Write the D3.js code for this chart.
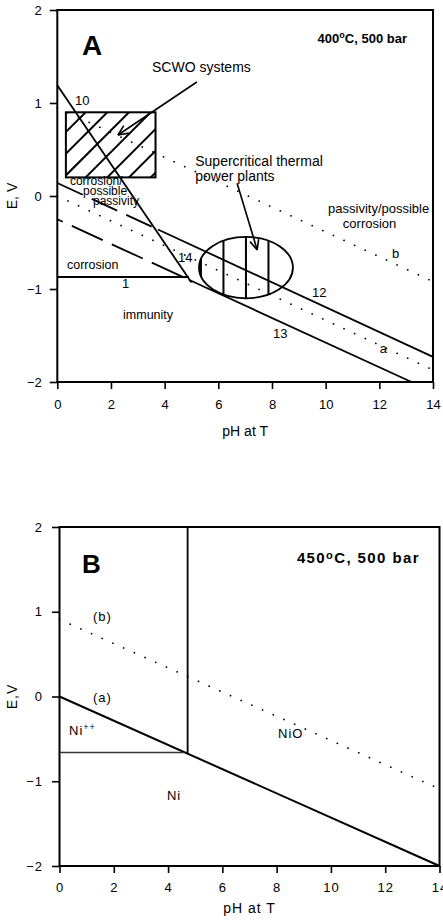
<!DOCTYPE html>
<html>
<head>
<meta charset="utf-8">
<script src="https://cdn.jsdelivr.net/npm/d3@7"></script>
<style>
  html, body { margin: 0; padding: 0; background: #fff; }
  svg { display: block; }
  text { font-family: "Liberation Sans", Arial, Helvetica, sans-serif; fill: #000; }
</style>
</head>
<body>
<svg id="chart" width="443" height="922"></svg>
<script>
// ---------- Panel A: 400 °C, 500 bar ----------
const xTicks = [0, 2, 4, 6, 8, 10, 12, 14];
const yTicks = [-2, -1, 0, 1, 2];

// line 10 (steep solid)
const a10pH = [0, 5.0];
const a10E  = [1.19, -0.93];
// line 12: dashed up to its crossing with line 10, solid beyond
const a12pH = [0, 3.75, 14];
const a12E  = [0.14, -0.36, -1.73];
// line 13: dashed at low pH, solid from the end of line 1
const a13pH = [0, 4.9, 13.2];
const a13E  = [-0.25, -0.90, -2.0];
// line 1 (horizontal)
const a1pH = [0, 4.9];
const a1E  = [-0.87, -0.87];
// dotted water lines a and b
const aApH = [0, 14];
const aAE  = [0.0, -1.87];
const aBpH = [0, 14];
const aBE  = [0.95, -0.92];
// SCWO operating window (hatched box) and thermal power plant region (ellipse)
const scwoPH = [0.32, 3.66];
const scwoE  = [0.2, 0.9];
const plantCenter = [7.03, -0.77];
const plantRadius = [1.75, 0.33];

// ---------- Panel B: 450 °C, 500 bar ----------
const bApH = [0, 14];
const bAE  = [0, -2];
const bVpH = [4.72, 4.72];
const bVE  = [2, -0.67];
const bHpH = [0, 4.6];
const bHE  = [-0.66, -0.66];
const bBpH = [0, 14];
const bBE  = [0.91, -1.09];

const svg = d3.select("#chart");
const FONT = '"Liberation Sans", Arial, Helvetica, sans-serif';

function makePanel(o) {
  const x = d3.scaleLinear().domain([0, 14]).range([o.left, o.right]);
  const y = d3.scaleLinear().domain([-2, 2]).range([o.bottom, o.top]);
  const g = svg.append("g");

  const xa = g.append("g").attr("transform", `translate(0,${o.bottom})`)
    .call(d3.axisBottom(x).tickValues(xTicks).tickFormat(d3.format("d"))
      .tickSize(7).tickPadding(o.xPad).tickSizeOuter(0));
  const ya = g.append("g").attr("transform", `translate(${o.left},0)`)
    .call(d3.axisLeft(y).tickValues(yTicks).tickFormat(d3.format("d"))
      .tickSize(7.5).tickPadding(o.yPad).tickSizeOuter(0));
  [xa, ya].forEach(a => {
    a.select(".domain").remove();
    a.selectAll(".tick line").attr("stroke", "#000").attr("stroke-width", 1.6);
    a.selectAll(".tick text").attr("font-family", FONT).attr("font-size", 13)
      .attr("fill", "#000").attr("letter-spacing", o.spacing);
  });

  g.append("rect").attr("x", o.left).attr("y", o.top)
    .attr("width", o.right - o.left).attr("height", o.bottom - o.top)
    .attr("fill", "none").attr("stroke", "#000").attr("stroke-width", 2);

  g.append("text").attr("x", (o.left + o.right) / 2).attr("y", o.xTitleY)
    .attr("text-anchor", "middle").attr("font-size", 14)
    .attr("letter-spacing", o.spacing).text("pH at T");
  g.append("text").attr("transform", `translate(${o.yTitleX},${y(0)}) rotate(-90)`)
    .attr("text-anchor", "middle").attr("font-size", 14)
    .attr("letter-spacing", o.spacing).text(o.yTitle);

  const line = d3.line().x(d => x(d[0])).y(d => y(d[1]));
  const draw = (pts, style) => {
    const p = g.append("path").attr("fill", "none").attr("stroke", "#000")
      .attr("stroke-width", style.w || 1.8)
      .attr("d", line(pts));
    if (style.dash) p.attr("stroke-dasharray", style.dash);
    if (style.offset) p.attr("stroke-dashoffset", style.offset);
    if (style.cap) p.attr("stroke-linecap", style.cap);
    if (style.color) p.attr("stroke", style.color);
    return p;
  };
  const pts = (ph, e) => ph.map((v, i) => [v, e[i]]);
  const label = (t, ph, e, size, extra) => {
    const el = g.append("text").attr("x", x(ph)).attr("y", y(e))
      .attr("font-size", size).attr("letter-spacing", o.spacing).text(t);
    if (extra) extra(el);
    return el;
  };
  return { g, x, y, draw, pts, label, line };
}

// ===== Panel A =====
const A = makePanel({ left: 57.3, right: 433, top: 10, bottom: 382,
  xPad: 11, yPad: 8, xTitleY: 436, yTitleX: 17, yTitle: "E, V", spacing: 0 });

const dotted = { w: 1.7, dash: "0.1,11.6", cap: "round" };
A.draw(A.pts(aApH, aAE), dotted);
A.draw(A.pts(aBpH, aBE), dotted);
A.draw(A.pts(a10pH, a10E), { w: 1.8 });
A.draw(A.pts(a12pH, a12E).slice(0, 2), { w: 1.8, dash: "28,10" });
A.draw(A.pts(a12pH, a12E).slice(1), { w: 1.8 });
A.draw(A.pts(a13pH, a13E).slice(0, 2), { w: 1.8, dash: "34,10", offset: 28 });
A.draw(A.pts(a13pH, a13E).slice(1), { w: 1.8 });
A.draw(A.pts(a1pH, a1E), { w: 2 });

// hatched SCWO box
{
  const x0 = A.x(scwoPH[0]), x1 = A.x(scwoPH[1]);
  const y0 = A.y(scwoE[1]), y1 = A.y(scwoE[0]);
  A.g.append("clipPath").attr("id", "clipScwo").append("rect")
    .attr("x", x0).attr("y", y0).attr("width", x1 - x0).attr("height", y1 - y0);
  const h = y1 - y0, step = 21.7;
  const hatch = A.g.append("g").attr("clip-path", "url(#clipScwo)");
  d3.range(x0 - h - 2, x1 + step, step).forEach(s => {
    hatch.append("line").attr("x1", s).attr("y1", y1).attr("x2", s + h).attr("y2", y0)
      .attr("stroke", "#000").attr("stroke-width", 2);
  });
  A.g.append("rect").attr("x", x0).attr("y", y0).attr("width", x1 - x0).attr("height", h)
    .attr("fill", "none").attr("stroke", "#000").attr("stroke-width", 2);
}

// ellipse with vertical hatching
{
  const cx = A.x(plantCenter[0]), cy = A.y(plantCenter[1]);
  const rx = A.x(plantCenter[0] + plantRadius[0]) - cx;
  const ry = cy - A.y(plantCenter[1] + plantRadius[1]);
  A.g.append("clipPath").attr("id", "clipPlant").append("ellipse")
    .attr("cx", cx).attr("cy", cy).attr("rx", rx).attr("ry", ry);
  const hatch = A.g.append("g").attr("clip-path", "url(#clipPlant)");
  [-2, -1, 0, 1].forEach(k => {
    const xx = cx + k * 22.5;
    hatch.append("line").attr("x1", xx).attr("x2", xx).attr("y1", cy - ry).attr("y2", cy + ry)
      .attr("stroke", "#000").attr("stroke-width", 2);
  });
  A.g.append("ellipse").attr("cx", cx).attr("cy", cy).attr("rx", rx).attr("ry", ry)
    .attr("fill", "none").attr("stroke", "#000").attr("stroke-width", 1.8);
}

// arrows with open heads
function arrow(P, from, to) {
  const x1 = P.x(from[0]), y1 = P.y(from[1]), x2 = P.x(to[0]), y2 = P.y(to[1]);
  const ang = Math.atan2(y2 - y1, x2 - x1), L = 11, spread = 0.42;
  P.g.append("line").attr("x1", x1).attr("y1", y1).attr("x2", x2).attr("y2", y2)
    .attr("stroke", "#000").attr("stroke-width", 1.6);
  [-spread, spread].forEach(s => {
    P.g.append("line").attr("x1", x2).attr("y1", y2)
      .attr("x2", x2 - L * Math.cos(ang + s)).attr("y2", y2 - L * Math.sin(ang + s))
      .attr("stroke", "#000").attr("stroke-width", 1.6);
  });
}
arrow(A, [5.2, 1.226], [2.26, 0.656]);
arrow(A, [6.7, 0.137], [7.45, -0.58]);

// panel A text
A.label("A", 0.92, 1.516, 28, el => el.attr("font-weight", "bold"));
A.label("", 13.03, 1.645, 13, el => {
  el.attr("font-weight", "bold").attr("text-anchor", "end");
  el.append("tspan").text("400");
  el.append("tspan").attr("font-size", 9).attr("dy", -5).text("o");
  el.append("tspan").attr("dy", 5).text("C, 500 bar");
});
A.label("SCWO systems", 3.53, 1.333, 14);
A.label("10", 0.66, 0.978, 13);
A.label("corrosion/", 0.47, 0.118, 12);
A.label("possible", 0.96, 0.015, 12);
A.label("passivity", 1.33, -0.102, 12);
A.label("Supercritical thermal", 5.14, 0.323, 14);
A.label("power plants", 5.14, 0.161, 14);
A.label("passivity/possible", 10.09, -0.183, 13);
A.label("corrosion", 10.64, -0.344, 13);
A.label("b", 12.47, -0.667, 13);
A.label("12", 9.49, -1.083, 13);
A.label("13", 8.04, -1.527, 13);
A.label("a", 12.02, -1.688, 13);
A.label("14", 4.5, -0.706, 13);
A.label("corrosion", 0.36, -0.785, 12.5);
A.label("1", 2.41, -0.989, 13);
A.label("immunity", 2.45, -1.32, 12.5);

// ===== Panel B =====
const B = makePanel({ left: 59.5, right: 439.5, top: 527, bottom: 866,
  xPad: 10, yPad: 9, xTitleY: 913, yTitleX: 17, yTitle: "E,V", spacing: 1 });

B.draw(B.pts(bBpH, bBE), dotted);
B.draw(B.pts(bApH, bAE), { w: 2 });
B.draw(B.pts(bVpH, bVE), { w: 1.8 });
B.draw(B.pts(bHpH, bHE), { w: 1.6, color: "#333" });

B.label("B", 0.83, 1.463, 26, el => el.attr("font-weight", "bold"));
B.label("", 13.28, 1.58, 15, el => {
  el.attr("font-weight", "bold").attr("text-anchor", "end").attr("letter-spacing", 1.4);
  el.append("tspan").text("450");
  el.append("tspan").attr("font-size", 11).attr("dy", -4).text("o");
  el.append("tspan").attr("dy", 4).text("C, 500 bar");
});
B.label("(b)", 1.23, 0.885, 13);
B.label("(a)", 1.23, -0.07, 13);
B.label("", 0.35, -0.46, 13, el => {
  el.append("tspan").text("Ni");
  el.append("tspan").attr("font-size", 9).attr("dy", -5).text("++");
});
B.label("NiO", 8.05, -0.484, 13);
B.label("Ni", 3.96, -1.227, 13);
</script>
</body>
</html>
